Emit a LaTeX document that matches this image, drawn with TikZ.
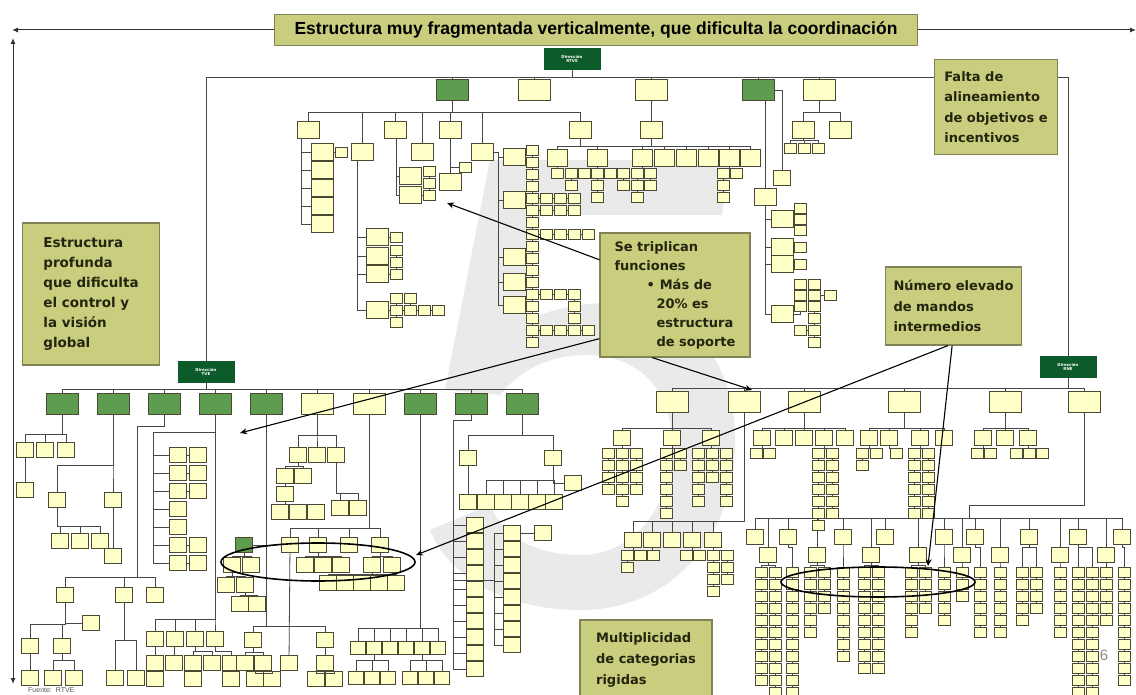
\documentclass[tikz,border=0pt]{standalone}
\usepackage{fontspec}
\setmainfont{Liberation Sans}
\newfontfamily\notefont{DejaVu Sans}
\usetikzlibrary{arrows.meta}
\definecolor{cream}{HTML}{FFFFC8}
\definecolor{edge}{HTML}{4A4A34}
\definecolor{leaf}{HTML}{5E9C50}
\definecolor{deepgreen}{HTML}{0D5A2B}
\definecolor{wire}{HTML}{474747}
\definecolor{notefill}{HTML}{C9CE7E}
\definecolor{noteedge}{HTML}{828158}
\definecolor{notetext}{HTML}{24240F}
\definecolor{watermark}{HTML}{EAEAEA}

\begin{document}
\begin{tikzpicture}[x=1pt,y=-1pt,
    ln/.style={draw=wire,line width=.8pt},
    org/.style={to path={-- ++(0,#1) -| (\tikztotarget)}}, org/.default=6,
    bx/.style={draw=edge,fill=cream,line width=.8pt,minimum width=17pt,minimum height=15pt,inner sep=0pt},
    mid/.style={bx,minimum width=22pt,minimum height=17pt},
    bxs/.style={bx,minimum width=15pt,minimum height=13pt},
    sm/.style={bx,minimum width=12pt,minimum height=10pt},
    top/.style={bx,minimum width=32pt,minimum height=21pt},
    dirbox/.style={fill=deepgreen,draw=deepgreen,minimum width=56pt,minimum height=21pt,inner sep=0pt,align=center,text=white,font=\notefont\bfseries\fontsize{4}{4.6}\selectfont},
    note/.style={draw=noteedge,fill=notefill,line width=1.2pt,inner xsep=8pt,inner ysep=6pt,align=left,text=notetext,font=\notefont\bfseries\fontsize{13}{20.5}\selectfont},
    callout/.style={draw=black,line width=1.1pt,-{Stealth[length=7pt,width=6pt]}},
    frame/.style={draw=black!80,line width=1pt}]
  \useasboundingbox (0,0) rectangle (1136,695);
  \fill[white] (0,0) rectangle (1136,695);
  % background five
  \fill[watermark] (490,160) -- (730,160) -- (722,215) -- (540,215) -- (528,320)
    .. controls (560,305) and (600,300) .. (630,305)
    .. controls (700,315) and (735,370) .. (735,440)
    .. controls (735,540) and (670,610) .. (580,610)
    .. controls (510,610) and (450,580) .. (430,530) -- (490,505)
    .. controls (505,540) and (540,555) .. (580,555)
    .. controls (635,555) and (672,505) .. (672,445)
    .. controls (672,385) and (635,355) .. (585,355)
    .. controls (545,355) and (515,375) .. (500,395) -- (445,390) -- cycle;

  % frame arrows and title
  \node[note,font=\bfseries\fontsize{17.5}{20}\selectfont,text=black,minimum width=643pt,minimum height=31pt,inner ysep=0pt] (title) at (596,30) {Estructura muy fragmentada verticalmente, que dificulta la coordinación};
  \coordinate (leftend) at (12,30); \coordinate (rightend) at (1136,30);
  \coordinate (upend) at (13,38); \coordinate (downend) at (13,684);
  \draw[frame,-{Latex[length=6pt,width=5pt]}] (title.west) -- (leftend);
  \draw[frame,-{Latex[length=6pt,width=5pt]}] (title.east) -- (rightend);
  \draw[frame,{Latex[length=6pt,width=5pt]}-{Latex[length=6pt,width=5pt]}] (upend) -- (downend);

  % top level
  \node[dirbox] (dRTVE) at (572,59) {Dirección\\RTVE};
  \coordinate (busRTVE) at (572,77);
  \node[top,fill=leaf] (t1) at (452,90) {};
  \node[top] (t2) at (534,90) {};
  \node[top] (t3) at (651,90) {};
  \node[top,fill=leaf] (t4) at (758,90) {};
  \node[top] (t5) at (819,90) {};
  \node[dirbox] (dTVE) at (206,372) {Dirección\\TVE};
  \node[dirbox] (dRNE) at (1068,367) {Dirección\\RNE};
  \draw[ln] (dRTVE) -- (busRTVE);
  \foreach \n in {t1,t2,t3,t4,t5,dTVE,dRNE}{\draw[ln] (\n.north) |- (busRTVE);}

  % under t1
  \foreach \x/\y [count=\k] in {308/130,395/130,450/130,580/130,362/152,422/152,482/152}{
    \node[mid] (a\k) at (\x,\y) {};
    \draw[ln] (t1.south) to[org=12] (a\k.north);}
  \coordinate (a1t) at (301,138.5);
  \foreach \y [count=\k] in {152,170,188,206,224}{\node[mid] (a1-\k) at (322,\y) {}; \draw[ln] (a1-\k.west) -| (a1t);}
  \node[sm] (a1-s) at (341,152) {}; \draw[ln] (a1-1.east) -- (a1-s.west);
  \coordinate (a2t) at (396,138.5);
  \foreach \y [count=\k] in {176,195}{\node[mid] (a2-\k) at (410,\y) {}; \draw[ln] (a2-\k.west) -| (a2t);}
  \foreach \y [count=\k] in {171,183,195}{\node[sm] (a2-s\k) at (429,\y) {};}
  \draw[ln] (a2-s1.south) -- (a2-s2.north); \draw[ln] (a2-s2.south) -- (a2-s3.north);
  \draw[ln] (a2-2.east) -- (a2-s3.west);
  \node[mid] (a3-1) at (450,182) {}; \draw[ln] (a3) -- (a3-1);
  \node[sm] (a3-s) at (465,167) {}; \draw[ln] (a3-s.west) -| (a3-1.north);
  \coordinate (a5t) at (357,160.5);
  \foreach \y [count=\k] in {237,256,274,310}{\node[mid] (a5-\k) at (377,\y) {}; \draw[ln] (a5-\k.west) -| (a5t);}
  \node[sm] (a5-s1) at (396,237) {}; \draw[ln] (a5-1.east) -- (a5-s1.west);
  \foreach \y [count=\k] in {250,262,274}{\node[sm] (a5-c\k) at (396,\y) {};}
  \draw[ln] (a5-c1.south) -- (a5-c2.north); \draw[ln] (a5-c2.south) -- (a5-c3.north);
  \draw[ln] (a5-3.east) -- (a5-c3.west);
  \foreach \x [count=\k] in {396,410,424,438}{\node[sm] (a5-g\k) at (\x,310) {};}
  \draw[ln] (a5-4.east) -- (a5-g1.west);
  \foreach \k [count=\j] in {2,3,4}{\draw[ln] (a5-g\j.east) -- (a5-g\k.west);}
  \node[sm] (a5-h1) at (396,298) {}; \node[sm] (a5-h2) at (410,298) {}; \node[sm] (a5-h3) at (396,322) {};
  \draw[ln] (a5-h1.south) -- (a5-g1.north); \draw[ln] (a5-h2.south) -- (a5-g2.north);
  \draw[ln] (a5-g1.south) -- (a5-h3.north);
  \coordinate (a7t) at (498,152);
  \draw[ln] (a7.east) -- (a7t);
  \foreach \y [count=\k] in {157,200,257,282,305}{\node[mid] (a7-\k) at (514,\y) {}; \draw[ln] (a7-\k.west) -| (a7t);}
  \foreach \k in {1,...,17}{\node[sm] (a7c\k) at (532,{138+12*\k}) {};}
  \foreach \k [count=\j] in {2,...,17}{\draw[ln] (a7c\j.south) -- (a7c\k.north);}
  \foreach \r/\n in {5/3,6/3,8/4,13/3,16/4}{
    \foreach \i in {1,...,\n}{\node[sm] (a7g\r-\i) at ({532+14*\i},{138+12*\r}) {};}
    \draw[ln] (a7c\r.east) -- (a7g\r-1.west);
    \foreach \i [count=\j] in {2,...,\n}{\draw[ln] (a7g\r-\j.east) -- (a7g\r-\i.west);}}
  \node[sm] (a7h1) at (574,306) {}; \node[sm] (a7h2) at (574,318) {};
  \draw[ln] (a7g13-3.south) -- (a7h1.north); \draw[ln] (a7h1.south) -- (a7h2.north);
  \coordinate (a4b) at (580,146);
  \draw[ln] (a4) -- (a4b);
  \node[mid] (t3a) at (651,130) {}; \draw[ln] (t3) -- (t3a); \draw[ln] (t3a.south) -- (t3a.south |- a4b);
  \foreach \x [count=\k] in {557,597,642,664,686,708,729,750}{\node[mid,minimum width=20pt] (a4-\k) at (\x,158) {}; \draw[ln] (a4-\k.north) |- (a4b);}

  % under t4 and t5
  \node[mid] (d1) at (765,197) {}; \draw[ln] (t4.south -| d1.north) -- (d1.north);
  \coordinate (d1t) at (765,205.5);
  \foreach \y [count=\k] in {219,247,264,314}{\node[mid] (d1-\k) at (782,\y) {}; \draw[ln] (d1-\k.west) -| (d1t);}
  \foreach \y [count=\k] in {208,219,230}{\node[sm] (d1-c\k) at (800,\y) {};}
  \draw[ln] (d1-c1.south) -- (d1-c2.north); \draw[ln] (d1-c2.south) -- (d1-c3.north);
  \draw[ln] (d1-1.east) -- (d1-c2.west);
  \node[sm] (d1-s2) at (800,247) {}; \node[sm] (d1-s3) at (800,264) {};
  \draw[ln] (d1-2.east) -- (d1-s2.west); \draw[ln] (d1-3.east) -- (d1-s3.west);
  \foreach \x/\y [count=\k] in {800/284,814/284,800/295,814/295,800/306,814/306,830/295,814/318,814/330,814/342,800/330}{\node[sm] (d1-g\k) at (\x,\y) {};}
  \foreach \a/\b in {1/3,3/5,2/4,4/6,6/8,8/9,9/10}{\draw[ln] (d1-g\a.south) -- (d1-g\b.north);}
  \draw[ln] (d1-g4.east) -- (d1-g7.west); \draw[ln] (d1-g11.east) -- (d1-g9.west);
  \draw[ln] (d1-4.east) -| (d1-g5.south);
  \node[bx] (d2) at (782,178) {}; \draw[ln] (t4.east) -| (d2.north);
  \foreach \x [count=\k] in {803,840}{\node[mid] (e\k) at (\x,130) {}; \draw[ln] (t5.south) to[org=12] (e\k.north);}

  % Direccion TVE
  \foreach \x/\f [count=\k] in {62/leaf,113/leaf,164/leaf,215/leaf,266/leaf,317/cream,369/cream,420/leaf,471/leaf,522/leaf}{
    \node[top,fill=\f] (b\k) at (\x,404) {};
    \draw[ln] (dTVE.south) to[org=7] (b\k.north);}
  \foreach \x [count=\k] in {25,45,66}{\node[bx] (b1-\k) at (\x,450) {}; \draw[ln] (b1.south) to[org=19] (b1-\k.north);}
  \node[bx] (b1-4) at (25,490) {}; \draw[ln] (b1-1) -- (b1-4);
  \foreach \x [count=\k] in {57,113}{\node[bx] (b2-\k) at (\x,500) {}; \draw[ln] (b2.south) to[org=50] (b2-\k.north);}
  \foreach \x [count=\k] in {60,80,100}{\node[bx] (b2-l\k) at (\x,541) {}; \draw[ln] (b2-1.south) to[org=18] (b2-l\k.north);}
  \node[bx] (b2-3) at (113,556) {}; \draw[ln] (b2-2) -- (b2-3);
  \coordinate (b3k) at (137,426); \draw[ln] (b3.south) |- (b3k);
  \foreach \x [count=\k] in {65,124,155}{\node[bx] (b3-\k) at (\x,595) {}; \draw[ln] (b3k) to[org=151] (b3-\k.north);}
  \foreach \x [count=\k] in {30,62}{\node[bx] (b3-1\k) at (\x,646) {}; \draw[ln] (b3-1.south) to[org=21] (b3-1\k.north);}
  \node[bx] (b3-x) at (91,623) {}; \draw[ln] (b3-1.south) |- (b3-x.west);
  \node[bx] (b3-1a) at (30,678) {}; \draw[ln] (b3-11) -- (b3-1a);
  \foreach \x [count=\k] in {53,74}{\node[bx] (b3-1b\k) at (\x,678) {}; \draw[ln] (b3-12.south) to[org=6] (b3-1b\k.north);}
  \foreach \x [count=\k] in {115,136}{\node[bx] (b3-2\k) at (\x,678) {}; \draw[ln] (b3-2.south) to[org=37] (b3-2\k.north);}
  \foreach \x [count=\k] in {155,175,195,215}{\node[bx] (b4-\k) at (\x,639) {}; \draw[ln] (b4.south) to[org=204] (b4-\k.north);}
  \coordinate (b4k) at (153,432); \draw[ln] (b4.south) |- (b4k);
  \foreach \y [count=\k] in {455,473,491,509,527,545,563}{\node[bx] (b4-l\k) at (178,\y) {}; \draw[ln] (b4-l\k.west) -| (b4k);}
  \foreach \k in {1,2,3,6,7}{\node[bx] (b4-c\k) at (198,{437+18*\k}) {}; \draw[ln] (b4-l\k.east) -- (b4-c\k.west);}
  \foreach \x [count=\k] in {155,174,193,212,231}{\node[bx] (b4-m\k) at (\x,663) {};}
  \draw[ln] (b4-1) -- (b4-m1); \draw[ln] (b4-2) -- (b4-m2);
  \draw[ln] (b4-3.south) to[org=4] (b4-m3.north); \draw[ln] (b4-3.south) to[org=4] (b4-m4.north);
  \draw[ln] (b4-4.south) to[org=4] (b4-m5.north);
  \foreach \k in {1,3,5}{\node[bx] (b4-z\k) at ({136+19*\k},679) {}; \draw[ln] (b4-m\k) -- (b4-z\k);}
  \foreach \x [count=\k] in {253,325}{\node[bx] (b5-\k) at (\x,640) {}; \draw[ln] (b5.south) to[org=211] (b5-\k.north);}
  \node[bx,fill=leaf] (b5-g) at (244,545) {}; \draw[ln] (b5-g.east) -- (b5-g.east -| b5.south);
  \foreach \x [count=\k] in {232,251}{\node[bx] (b5-g\k) at (\x,565) {}; \draw[ln] (b5-g.south) to[org=3] (b5-g\k.north);}
  \foreach \x [count=\k] in {226,245}{\node[bx] (b5-h\k) at (\x,585) {}; \draw[ln] (b5-g1.south) to[org=3] (b5-h\k.north);}
  \foreach \x [count=\k] in {240,257}{\node[bx] (b5-i\k) at (\x,604) {}; \draw[ln] (b5-h2.south) to[org=2] (b5-i\k.north);}
  \foreach \x [count=\k] in {245,263}{\node[bx] (b5-1\k) at (\x,663) {}; \draw[ln] (b5-1.south) to[org=4] (b5-1\k.north);}
  \foreach \x [count=\k] in {255,272}{\node[bx] (b5-1z\k) at (\x,679) {}; \draw[ln] (b5-12.south) to[org=2] (b5-1z\k.north);}
  \node[bx] (b5-21) at (325,663) {}; \draw[ln] (b5-2) -- (b5-21);
  \foreach \x [count=\k] in {316,334}{\node[bx] (b5-2z\k) at (\x,679) {}; \draw[ln] (b5-21.south) to[org=2] (b5-2z\k.north);}
  \foreach \x [count=\k] in {298,317,336}{\node[bx] (b6-\k) at (\x,455) {}; \draw[ln] (b6.south) to[org=20] (b6-\k.north);}
  \foreach \x [count=\k] in {340,358}{\node[bx] (b6-3\k) at (\x,508) {}; \draw[ln] (b6-3.south) to[org=30] (b6-3\k.north);}
  \foreach \x [count=\k] in {285,303}{\node[bx] (b6-1\k) at (\x,476) {}; \draw[ln] (b6-1.south) to[org=3] (b6-1\k.north);}
  \node[bx] (b6-1c) at (285,494) {}; \draw[ln] (b6-11) -- (b6-1c);
  \foreach \x [count=\k] in {280,298,316}{\node[bx] (b6-1d\k) at (\x,512) {}; \draw[ln] (b6-1c.south) to[org=2] (b6-1d\k.north);}
  \foreach \x [count=\k] in {290,318,349,380}{\node[bx] (b7-\k) at (\x,545) {}; \draw[ln] (b7.south) to[org=113] (b7-\k.north);}
  \foreach \x [count=\k] in {305,323,341}{\node[bx] (b7-2\k) at (\x,565) {}; \draw[ln] (b7-2.south) to[org=3] (b7-2\k.north);}
  \foreach \x [count=\k] in {372,392}{\node[bx] (b7-4\k) at (\x,565) {}; \draw[ln] (b7-4.south) to[org=3] (b7-4\k.north);}
  \foreach \x [count=\k] in {328,345,362,379,396}{\node[bx] (b7-5\k) at (\x,583) {}; \draw[ln] (b7-41.south) to[org=1] (b7-5\k.north);}
  \node[bx] (b7-1a) at (289,663) {}; \draw[ln] (b7-1) -- (b7-1a);
  \foreach \x [count=\k] in {358,374,390,406,422,438}{\node[bxs] (b8-\k) at (\x,648) {}; \draw[ln] (b8.south) to[org=213] (b8-\k.north);}
  \foreach \x [count=\k] in {356,372,388}{\node[bxs] (b8-2\k) at (\x,678) {}; \draw[ln] (b8-2.south) to[org=5] (b8-2\k.north);}
  \foreach \x [count=\k] in {410,426,442}{\node[bxs] (b8-5\k) at (\x,678) {}; \draw[ln] (b8-5.south) to[org=5] (b8-5\k.north);}
  \coordinate (b9k) at (453,420); \draw[ln] (b9.south) |- (b9k);
  \foreach \k in {1,...,10}{\node[bx] (b9-\k) at (475,{509+16*\k}) {}; \draw[ln] (b9-\k.west) -| (b9k);}
  \coordinate (b9m) at (494,580); \draw[ln] (b9m) -- (b9m -| b9k);
  \foreach \k in {1,...,8}{\node[bx] (b9-r\k) at (512,{517+16*\k}) {}; \draw[ln] (b9-r\k.west) -| (b9m);}
  \node[bx] (b9-s) at (543,533) {}; \draw[ln] (b9-r1.east) -- (b9-s.west);
  \foreach \x [count=\k] in {468,553}{\node[bx] (b10-\k) at (\x,458) {}; \draw[ln] (b10.south) to[org=20] (b10-\k.north);}
  \node[bx] (b10-3) at (468,502) {}; \draw[ln] (b10-1) -- (b10-3);
  \foreach \x [count=\k] in {486,503,520,537,554}{\node[bx] (b10-r\k) at (\x,502) {}; \draw[ln] (b10-2.south) to[org=14] (b10-r\k.north);}
  \node[bx] (b10-x) at (573,483) {}; \draw[ln] (b10-2.south) |- (b10-x.west);

  % Direccion RNE
  \foreach \x [count=\k] in {672,744,804,904,1005,1084}{\node[top] (n\k) at (\x,402) {}; \draw[ln] (dRNE.south) to[org=11] (n\k.north);}
  \foreach \x [count=\k] in {622,672,711}{\node[bx] (n1-\k) at (\x,438) {}; \draw[ln] (n1.south) to[org=15] (n1-\k.north);}
  \foreach \x [count=\k] in {633,652,672,692,713}{\node[bx] (n2-\k) at (\x,540) {}; \draw[ln] (n2.south) to[org=108] (n2-\k.north);}
  \foreach \x [count=\k] in {762,784,804,824,845}{\node[bx] (n3-\k) at (\x,438) {}; \draw[ln] (n3.south) to[org=15] (n3-\k.north);}
  \foreach \x [count=\k] in {869,889,920,944}{\node[bx] (n4-\k) at (\x,438) {}; \draw[ln] (n4.south) to[org=15] (n4-\k.north);}
  \foreach \x [count=\k] in {983,1005,1028}{\node[bx] (n5-\k) at (\x,438) {}; \draw[ln] (n5.south) to[org=15] (n5-\k.north);}
  \coordinate (n6k) at (969,505); \draw[ln] (n6.south) |- (n6k);
  \foreach \x [count=\k] in {755,788,843,885,944,975,1029,1078,1122}{\node[bx] (r1-\k) at (\x,537) {}; \draw[ln] (n6k) to[org=13] (r1-\k.north);}
  \foreach \x [count=\k] in {768,817,871,918,962,1000,1060,1106}{\node[bx] (r2-\k) at (\x,555) {}; \draw[ln] (n6k) to[org=13] (r2-\k.north);}

  % stacks of small boxes
  \foreach \p/\cx/\cy/\n [count=\c] in {
      a4-1/557/173/1, a4-2/571/173/2, a4-2/584/173/1, a4-2/597/173/3, a4-2/610/173/1, a4-2/623/173/2,
      a4-3/637/173/3, a4-3/650/173/2, a4-7/723/173/3, a4-7/736/173/1,
      e1/790/148/1, e1/804/148/1, e1/818/148/1,
      n1-1/608/453/4, n1-1/622/453/5, n1-1/636/453/4, n1-2/666/453/6, n1-2/680/453/2,
      n1-3/698/453/5, n1-3/712/453/3, n1-3/726/453/5,
      n2-1/627/555/2, n2-1/640/555/1, n2-2/653/555/1, n2-4/686/555/1, n2-4/699/555/1, n2-5/713/555/4, n2-5/727/555/3,
      n3-1/756/453/1, n3-1/769/453/1, n3-4/818/453/7, n3-4/832/453/6,
      n4-1/862/453/2, n4-1/876/453/1, n4-2/896/453/1, n4-3/914/453/6, n4-3/928/453/6,
      n5-1/977/453/1, n5-1/990/453/1, n5-3/1016/453/1, n5-3/1029/453/1, n5-3/1042/453/1,
      r2-1/761/572/10, r2-1/775/572/11, r1-2/792/572/11, r2-2/810/572/6, r2-2/824/572/4,
      r1-3/843/572/8, r2-3/864/572/9, r2-3/878/572/9, r2-4/911/572/6, r2-4/925/572/4,
      r1-5/944/572/5, r2-5/962/572/3, r1-6/980/572/6, r2-6/1000/572/6, r1-7/1022/572/5,
      r1-7/1036/572/4, r2-7/1060/572/6, r1-8/1078/572/11, r1-8/1092/572/11, r2-8/1106/572/5,
      r1-9/1124/572/10}{
    \foreach \k in {1,...,\n}{\node[sm] (st\c-\k) at (\cx,{\cy+12*(\k-1)}) {};}
    \draw[ln] (\p.south) to[org=2] (st\c-1.north);
    \ifnum\n>1 \foreach \k [count=\j] in {2,...,\n}{\draw[ln] (st\c-\j.south) -- (st\c-\k.north);}\fi}

  % callouts
  \node[note,minimum width=123pt,minimum height=95pt] (falta) at (996,107) {Falta de\\alineamiento\\de objetivos e\\incentivos};
  \node[note,minimum width=137pt,minimum height=142pt,font=\notefont\bfseries\fontsize{13.5}{20}\selectfont] (prof) at (91,294) {Estructura\\profunda\\que dificulta\\el control y\\la visión\\global};
  \node[note,minimum width=150pt,minimum height=124pt,font=\notefont\bfseries\fontsize{13}{19}\selectfont] (tri) at (675,295) {Se triplican\\funciones\\\hspace*{32pt}•\hspace{5pt}Más de\\\hspace*{42pt}20\% es\\\hspace*{42pt}estructura\\\hspace*{42pt}de soporte};
  \node[note,minimum width=133pt,minimum height=78pt] (num) at (953.5,306) {Número elevado\\de mandos\\intermedios};
  \node[note,minimum width=132pt,minimum height=80pt,font=\notefont\bfseries\fontsize{13}{21}\selectfont] (multi) at (646,660) {Multiplicidad\\de categorias\\rigidas};

  % highlights and pointers
  \draw[line width=1.6pt] (318,562) ellipse [x radius=97, y radius=19];
  \draw[line width=1.6pt] (878,582) ellipse [x radius=97, y radius=15];
  \coordinate (pA) at (447,203); \coordinate (pB) at (240,433); \coordinate (pC) at (752,390);
  \coordinate (pD) at (416,555); \coordinate (pE) at (928,566);
  \draw[callout] (tri.155) -- (pA);
  \draw[callout] (tri.210) -- (pB);
  \draw[callout] (tri.250) -- (pC);
  \draw[callout] (num.262) -- (pD);
  \draw[callout] (num.268) -- (pE);

  \node[anchor=west,inner sep=0pt,text=black!65,font=\fontsize{7}{8}\selectfont] (src) at (28,690) {Fuente:\ \ RTVE};
  \node[inner sep=0pt,text=black!45,font=\fontsize{15}{15}\selectfont] (pagenum) at (1104,655) {6};
\end{tikzpicture}
\end{document}
